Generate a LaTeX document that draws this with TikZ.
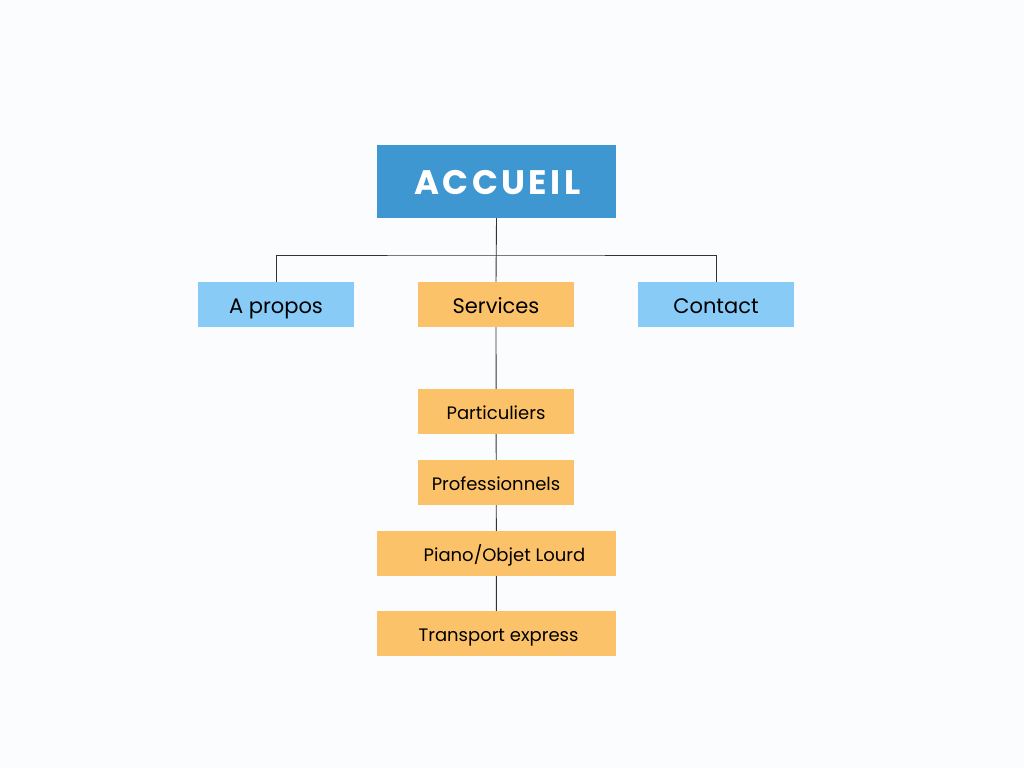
\documentclass[tikz,border=0pt]{standalone}
\usepackage{fontspec}
\setmainfont{Poppins}
\usetikzlibrary{backgrounds}

\definecolor{homeblue}{HTML}{3F97D1}
\definecolor{pageblue}{HTML}{88CBF7}
\definecolor{serviceorange}{HTML}{FBC26A}
\definecolor{linkgray}{HTML}{333333}
\definecolor{paper}{HTML}{FBFCFD}

\begin{document}
\begin{tikzpicture}[x=1pt,y=-1pt,
    home/.style={
      rectangle,
      minimum width=239pt,
      minimum height=73pt,
      fill=homeblue,
      text=white,
      font=\fontsize{34}{38}\selectfont\bfseries\addfontfeature{LetterSpace=10}, % big title
      text height=26.6pt,
      text depth=0pt,
      inner sep=0pt
    },
    page/.style={
      rectangle,
      minimum width=156pt,
      minimum height=45pt,
      fill=pageblue,
      font=\fontsize{21}{24}\selectfont,
      text height=18.7pt,
      text depth=0pt,
      inner sep=0pt
    },
    service/.style={
      page,
      fill=serviceorange
    },
    subservice/.style={
      service,
      font=\fontsize{18}{21}\selectfont,
      text height=16.6pt
    },
    wide/.style={
      subservice,
      minimum width=239pt
    },
    link/.style={
      draw=linkgray,
      line width=0.9pt
    }
  ]

    \useasboundingbox (0,0) rectangle (1024,768);

    % Home page
    \node[home] (accueil) at (496.5,181.5) {\hspace*{2pt}ACCUEIL};

    % Main menu
    \node[page] (apropos) at (276,304.5) {A propos};
    \node[service] (services) at (496,304.5) {Services};
    \node[page] (contact) at (716,304.5) {Contact};

    % Services sub pages
    \node[subservice] (particuliers) at (496,411) {Particuliers};
    \node[subservice] (pros) at (496,482.5) {Professionnels};
    \node[wide] (piano) at (496.5,553.5) {\hspace*{16pt}Piano/Objet Lourd};
    \node[wide] (express) at (496.5,633.5) {\hspace*{4pt}Transport express};

    \coordinate (bar) at (496,255);

    % Links, behind the boxes
    \begin{scope}[on background layer]
      \fill[paper] (0,0) rectangle (1024,768);
      \draw[link] (accueil.south) -- (services.north);
      \draw[link] (apropos.north) |- (bar) -| (contact.north);
      \draw[link] (services.south) -- ([yshift=1pt]express.south);
    \end{scope}

  \end{tikzpicture}
\end{document}
